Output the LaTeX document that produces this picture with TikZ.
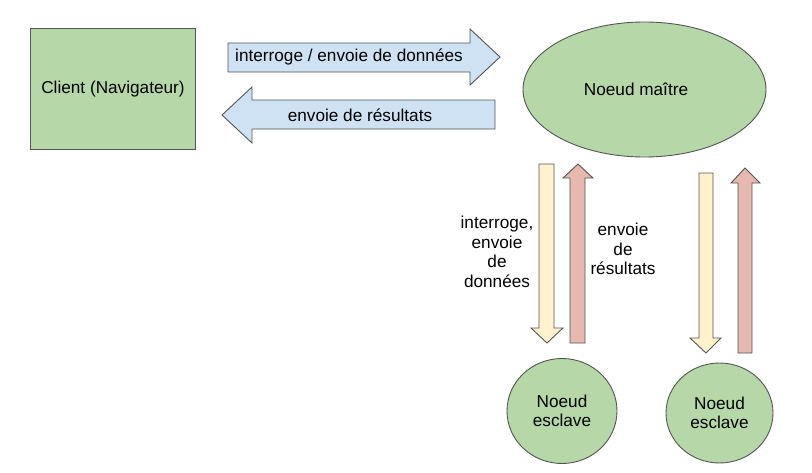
\documentclass[tikz,border=0pt]{standalone}
\usepackage{fontspec}
\setmainfont{Liberation Sans}
\usepackage{tikz}
\usetikzlibrary{shapes.geometric, positioning}
\usepackage{xcolor}
\definecolor{nodecolor}{RGB}{182,215,168}
\definecolor{reqcolor}{RGB}{207,226,243}
\definecolor{downcolor}{RGB}{255,242,204}
\definecolor{upcolor}{RGB}{230,184,175}
\definecolor{boxborder}{RGB}{85,85,85}
\tikzset{
    shapebox/.style={draw=boxborder, line width=0.9pt, fill=nodecolor, align=center, inner sep=0pt},
    blockarrow/.style={draw=boxborder, line width=0.9pt, line join=miter},
    lbl/.style={align=center, inner sep=0pt}
}

\begin{document}
\begin{tikzpicture}[x=1pt, y=-1pt, font=\fontsize{17.2}{19.5}\selectfont]
    \useasboundingbox (0,0) rectangle (812,472);
    \node[shapebox, rectangle, minimum width=165pt, minimum height=121pt] (client) at (113,89) {Client (Navigateur)};
    \node[shapebox, ellipse, minimum width=243pt, minimum height=135pt,
          label={[xshift=-8.5pt]center:Noeud ma\^{\i}tre}] (master) at (644.5,89.5) {};
    \node[shapebox, ellipse, minimum width=110pt, minimum height=105pt] (slaveA) at (562,411) {Noeud\\esclave};
    \node[shapebox, ellipse, minimum width=107pt, minimum height=100pt] (slaveB) at (719.5,413) {Noeud\\esclave};

    % client <-> master
    \draw[blockarrow, fill=reqcolor] (228,43) -- (470,43) -- (470,29) -- (500,57) -- (470,85) -- (470,72) -- (228,72) -- cycle;
    \draw[blockarrow, fill=reqcolor] (495,100) -- (252,100) -- (252,87) -- (222,115) -- (252,143) -- (252,129) -- (495,129) -- cycle;
    \node[lbl] (query) at (349,57) {interroge / envoie de donn\'ees};
    \node[lbl] (reply) at (360,115) {envoie de r\'esultats};

    % master <-> slaves
    \draw[blockarrow, fill=downcolor] (539,164) -- (554,164) -- (554,328) -- (563,328) -- (547,343) -- (531,328) -- (539,328) -- cycle;
    \draw[blockarrow, fill=upcolor] (570,343) -- (585,343) -- (585,178) -- (593,178) -- (578,164) -- (563,178) -- (570,178) -- cycle;
    \draw[blockarrow, fill=downcolor] (699,173) -- (713,173) -- (713,338) -- (721,338) -- (706,353) -- (690,338) -- (699,338) -- cycle;
    \draw[blockarrow, fill=upcolor] (738,353) -- (752,353) -- (752,183) -- (760,183) -- (745,168) -- (731,183) -- (738,183) -- cycle;
    \node[lbl] (queryA) at (497,252) {interroge,\\envoie\\de\\donn\'ees};
    \node[lbl] (replyA) at (623,249) {envoie\\de\\r\'esultats};
\end{tikzpicture}
\end{document}
